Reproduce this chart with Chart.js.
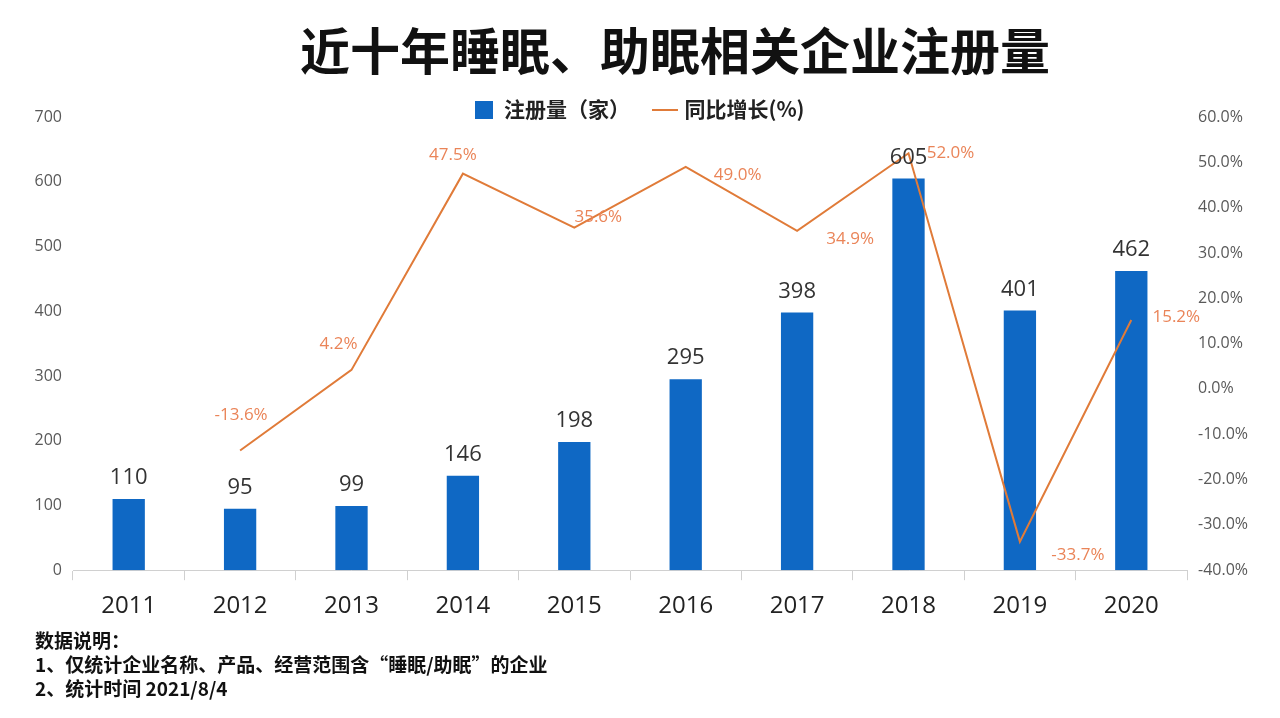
<!DOCTYPE html>
<html>
<head>
<meta charset="utf-8">
<script src="https://cdn.jsdelivr.net/npm/chart.js@4.4.1/dist/chart.umd.min.js"></script>
<style>
  body { margin: 0; background: #fff; }
  #wrap { position: relative; width: 1280px; height: 718px; overflow: hidden; }
  #title {
    position: absolute; left: 70px; width: 1210px; top: 12px;
    text-align: center; line-height: 60px;
    font: 700 50px "Noto Sans CJK SC", sans-serif; color: #111;
  }
  #notes {
    position: absolute; left: 35px; top: 628px;
    font: 700 19px "Noto Sans CJK SC", sans-serif; line-height: 24px; color: #111;
  }
  canvas { position: absolute; left: 0; top: 0; }
</style>
</head>
<body>
<div id="wrap">
  <canvas id="chart" width="1280" height="718"></canvas>
  <div id="title">近十年睡眠、助眠相关企业注册量</div>
  <div id="notes">
    数据说明：<br>
    1、仅统计企业名称、产品、经营范围含“睡眠/助眠”的企业<br>
    2、统计时间 2021/8/4
  </div>
</div>

<script>
// data
const years = ["2011", "2012", "2013", "2014", "2015", "2016", "2017", "2018", "2019", "2020"];
const registrations = [110, 95, 99, 146, 198, 295, 398, 605, 401, 462];
const yoyGrowth = [null, -13.6, 4.2, 47.5, 35.6, 49.0, 34.9, 52.0, -33.7, 15.2];

// where each growth label sits relative to its point
const growthLabelOffsets = [
    null, [1, -35], [-13, -26], [-10, -18], [24, -10],
    [52, 8], [53, 8], [42, 0], [58, 14], [45, -3]
];

const BLUE = "#0f68c4";
const ORANGE = "#e07b39";

// legend swatches
function swatch(w, h, color) {
    const c = document.createElement("canvas");
    c.width = w; c.height = h;
    const g = c.getContext("2d");
    g.fillStyle = color;
    g.fillRect(0, 0, w, h);
    return c;
}
const barSwatch = swatch(18, 18, BLUE);
const lineSwatch = swatch(26, 2, ORANGE);

// ================= LABELS =================
const valueLabels = {
    id: "valueLabels",
    afterDatasetsDraw(chart) {
        const ctx = chart.ctx;
        ctx.save();
        ctx.textAlign = "center";
        ctx.textBaseline = "middle";

        ctx.font = '22px "Open Sans"';
        ctx.fillStyle = "#333";
        chart.getDatasetMeta(0).data.forEach((bar, i) => {
            ctx.fillText(registrations[i], bar.x, bar.y - 21);
        });

        ctx.font = '17px "Open Sans"';
        ctx.fillStyle = "#ea8458";
        chart.getDatasetMeta(1).data.forEach((pt, i) => {
            if (yoyGrowth[i] === null) return;
            const off = growthLabelOffsets[i];
            ctx.fillText(yoyGrowth[i].toFixed(1) + "%", pt.x + off[0], pt.y + off[1]);
        });
        ctx.restore();
    }
};

// push the legend a bit down toward the plot
const legendShift = {
    id: "legendShift",
    afterLayout(chart) {
        chart.legend.top += 13;
        chart.legend.bottom += 13;
    }
};

new Chart(document.getElementById("chart"), {
    data: {
        labels: years,
        datasets: [
            {
                type: "bar",
                label: "注册量（家）",
                data: registrations,
                backgroundColor: BLUE,
                barPercentage: 0.29,
                categoryPercentage: 1,
                yAxisID: "y",
                order: 2,
                pointStyle: barSwatch
            },
            {
                type: "line",
                label: "同比增长(%)",
                data: yoyGrowth,
                borderColor: ORANGE,
                borderWidth: 2,
                pointRadius: 0,
                tension: 0,
                yAxisID: "y1",
                order: 1,
                pointStyle: lineSwatch
            }
        ]
    },
    options: {
        responsive: false,
        animation: false,
        layout: {
            padding: { top: 60, bottom: 85, left: 0, right: 0 }
        },
        plugins: {
            tooltip: { enabled: false },
            legend: {
                position: "top",
                labels: {
                    usePointStyle: true,
                    pointStyleWidth: 18,
                    padding: 26,
                    color: "#222",
                    font: { family: "Noto Sans CJK SC", size: 21, weight: "bold" },
                    sort: (a, b) => a.datasetIndex - b.datasetIndex
                }
            }
        },
        scales: {
            x: {
                offset: true,
                grid: {
                    offset: true,
                    drawOnChartArea: false,
                    tickLength: 10,
                    color: "#d0d0d0"
                },
                border: { color: "#d0d0d0" },
                ticks: {
                    color: "#222",
                    padding: 12,
                    font: { family: "Open Sans", size: 24 }
                }
            },
            y: {
                position: "left",
                min: 0,
                max: 700,
                grid: { display: false, drawTicks: false },
                border: { display: false },
                ticks: {
                    stepSize: 100,
                    padding: 11,
                    color: "#595959",
                    font: { family: "Open Sans", size: 16 }
                },
                afterFit: s => { s.width = 73; }
            },
            y1: {
                position: "right",
                min: -40,
                max: 60,
                grid: { display: false, drawTicks: false },
                border: { display: false },
                ticks: {
                    stepSize: 10,
                    padding: 11,
                    color: "#595959",
                    font: { family: "Open Sans", size: 16 },
                    callback: v => v.toFixed(1) + "%"
                },
                afterFit: s => { s.width = 93; }
            }
        }
    },
    plugins: [valueLabels, legendShift]
});
</script>
</body>
</html>
